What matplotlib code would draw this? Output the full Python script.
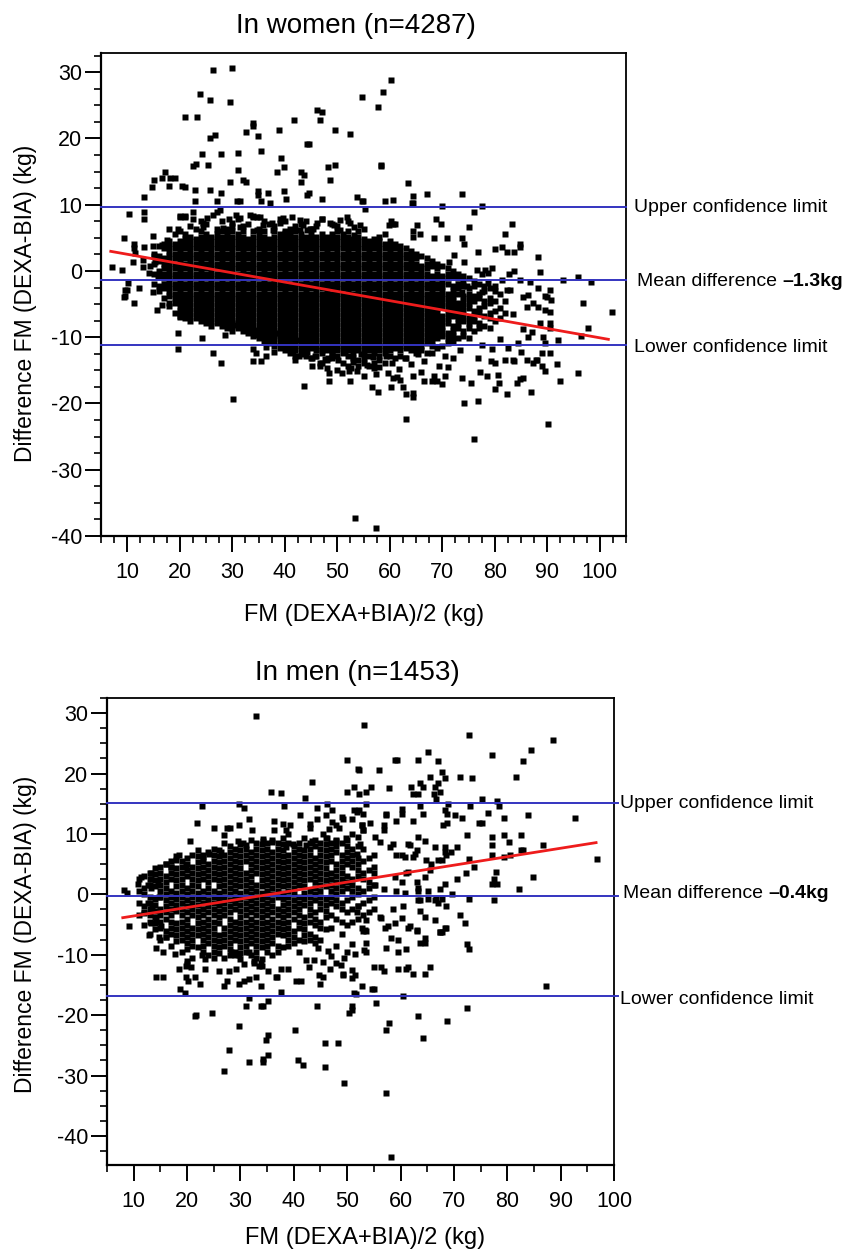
import matplotlib
matplotlib.use('Agg')
import matplotlib.pyplot as plt
from matplotlib.ticker import MultipleLocator
import numpy as np

plt.rcParams['font.family'] = ['Liberation Sans', 'DejaVu Sans']
plt.rcParams['axes.unicode_minus'] = False

# ------------------------------------------------------------------ data
# Women: dense core, read column by column (x in kg, list of y in kg)
women_core_x = list(range(15, 83))
women_core_y = [
    [2.6, 1.1, -0.4, -1.9],
    [3.7, 2.2, 1.5, 0.0, -0.8, -2.3, -3.0],
    [4.1, 3.4, 1.9, 1.1, 0.4, -0.4, -1.1, -1.9, -2.6, -4.1],
    [4.5, 3.7, 3.0, 2.2, 1.5, 0.7, 0.0, -0.8, -1.5, -2.3, -3.0, -3.8, -5.3],
    [5.6, 4.1, 3.4, 2.6, 1.9, 1.1, 0.4, -0.4, -1.1, -1.9, -2.6, -3.4, -4.1, -4.9, -6.4],
    [6.0, 4.5, 3.7, 3.0, 2.2, 1.5, 0.7, 0.0, -0.8, -1.5, -2.3, -3.0, -3.8, -4.5, -5.3, -6.0, -6.8],
    [5.6, 4.9, 4.1, 3.4, 2.6, 1.9, 1.1, 0.4, -0.4, -1.1, -1.9, -2.6, -3.4, -4.1, -4.9, -5.6, -6.4],
    [6.8, 5.2, 4.5, 3.7, 3.0, 2.2, 1.5, 0.7, 0.0, -0.8, -1.5, -2.3, -3.0, -3.8, -4.5, -5.3, -6.0, -6.8, -7.5],
    [6.4, 4.9, 4.1, 3.4, 2.6, 1.9, 1.1, 0.4, -0.4, -1.1, -1.9, -2.6, -3.4, -4.1, -4.9, -5.6, -6.4, -7.1],
    [7.5, 6.0, 5.2, 4.5, 3.7, 3.0, 2.2, 1.5, 0.7, 0.0, -0.8, -1.5, -2.3, -3.0, -3.8, -4.5, -5.3, -6.0, -6.8, -7.5],
    [7.1, 5.6, 4.9, 4.1, 3.4, 2.6, 1.9, 1.1, 0.4, -0.4, -1.1, -1.9, -2.6, -3.4, -4.1, -4.9, -5.6, -6.4, -7.1, -7.9],
    [5.2, 4.5, 3.7, 3.0, 2.2, 1.5, 0.7, 0.0, -0.8, -1.5, -2.3, -3.0, -3.8, -4.5, -5.3, -6.0, -6.8, -7.5, -8.3],
    [6.4, 5.6, 4.9, 4.1, 3.4, 2.6, 1.9, 1.1, 0.4, -0.4, -1.1, -1.9, -2.6, -3.4, -4.1, -4.9, -5.6, -6.4, -7.1, -7.9],
    [7.5, 6.0, 5.2, 4.5, 3.7, 3.0, 2.2, 1.5, 0.7, 0.0, -0.8, -1.5, -2.3, -3.0, -3.8, -4.5, -5.3, -6.0, -6.8, -7.5, -8.3],
    [6.4, 5.6, 4.9, 4.1, 3.4, 2.6, 1.9, 1.1, 0.4, -0.4, -1.1, -1.9, -2.6, -3.4, -4.1, -4.9, -5.6, -6.4, -7.1, -7.9, -8.6],
    [6.8, 6.0, 5.2, 4.5, 3.7, 3.0, 2.2, 1.5, 0.7, 0.0, -0.8, -1.5, -2.3, -3.0, -3.8, -4.5, -5.3, -6.0, -6.8, -7.5, -8.3, -9.0],
    [7.9, 5.6, 4.9, 4.1, 3.4, 2.6, 1.9, 1.1, 0.4, -0.4, -1.1, -1.9, -2.6, -3.4, -4.1, -4.9, -5.6, -6.4, -7.1, -7.9, -8.6],
    [6.8, 6.0, 5.2, 4.5, 3.7, 3.0, 2.2, 1.5, 0.7, 0.0, -0.8, -1.5, -2.3, -3.0, -3.8, -4.5, -5.3, -6.0, -6.8, -7.5, -8.3, -9.0],
    [7.1, 4.9, 4.1, 3.4, 2.6, 1.9, 1.1, 0.4, -0.4, -1.1, -1.9, -2.6, -3.4, -4.1, -4.9, -5.6, -6.4, -7.1, -7.9, -8.6, -9.4],
    [8.3, 6.0, 5.2, 4.5, 3.7, 3.0, 2.2, 1.5, 0.7, 0.0, -0.8, -1.5, -2.3, -3.0, -3.8, -4.5, -5.3, -6.0, -6.8, -7.5, -8.3, -9.0, -9.8],
    [6.4, 5.6, 4.9, 4.1, 3.4, 2.6, 1.9, 1.1, 0.4, -0.4, -1.1, -1.9, -2.6, -3.4, -4.1, -4.9, -5.6, -6.4, -7.1, -7.9, -8.6, -9.4, -10.1],
    [7.5, 6.0, 5.2, 4.5, 3.7, 3.0, 2.2, 1.5, 0.7, 0.0, -0.8, -1.5, -2.3, -3.0, -3.8, -4.5, -5.3, -6.0, -6.8, -7.5, -8.3, -9.0, -9.8, -10.5],
    [7.1, 4.9, 4.1, 3.4, 2.6, 1.9, 1.1, 0.4, -0.4, -1.1, -1.9, -2.6, -3.4, -4.1, -4.9, -5.6, -6.4, -7.1, -7.9, -8.6, -9.4, -10.1, -10.9],
    [6.8, 6.0, 5.2, 4.5, 3.7, 3.0, 2.2, 1.5, 0.7, 0.0, -0.8, -1.5, -2.3, -3.0, -3.8, -4.5, -5.3, -6.0, -6.8, -7.5, -8.3, -9.0, -9.8, -10.5, -11.3],
    [7.9, 5.6, 4.9, 4.1, 3.4, 2.6, 1.9, 1.1, 0.4, -0.4, -1.1, -1.9, -2.6, -3.4, -4.1, -4.9, -5.6, -6.4, -7.1, -7.9, -8.6, -9.4, -10.1, -10.9, -11.6],
    [7.5, 6.0, 5.2, 4.5, 3.7, 3.0, 2.2, 1.5, 0.7, 0.0, -0.8, -1.5, -2.3, -3.0, -3.8, -4.5, -5.3, -6.0, -6.8, -7.5, -8.3, -9.0, -9.8, -10.5, -11.3, -12.0],
    [6.4, 5.6, 4.9, 4.1, 3.4, 2.6, 1.9, 1.1, 0.4, -0.4, -1.1, -1.9, -2.6, -3.4, -4.1, -4.9, -5.6, -6.4, -7.1, -7.9, -8.6, -9.4, -10.1, -10.9, -11.6, -12.4],
    [6.8, 6.0, 5.2, 4.5, 3.7, 3.0, 2.2, 1.5, 0.7, 0.0, -0.8, -1.5, -2.3, -3.0, -3.8, -4.5, -5.3, -6.0, -6.8, -7.5, -8.3, -9.0, -9.8, -10.5, -11.3, -12.0, -12.8],
    [7.1, 5.6, 4.9, 4.1, 3.4, 2.6, 1.9, 1.1, 0.4, -0.4, -1.1, -1.9, -2.6, -3.4, -4.1, -4.9, -5.6, -6.4, -7.1, -7.9, -8.6, -9.4, -10.1, -10.9, -11.6, -12.4],
    [7.5, 5.2, 4.5, 3.7, 3.0, 2.2, 1.5, 0.7, 0.0, -0.8, -1.5, -2.3, -3.0, -3.8, -4.5, -5.3, -6.0, -6.8, -7.5, -8.3, -9.0, -9.8, -10.5, -11.3, -12.0, -12.8],
    [6.4, 5.6, 4.9, 4.1, 3.4, 2.6, 1.9, 1.1, 0.4, -0.4, -1.1, -1.9, -2.6, -3.4, -4.1, -4.9, -5.6, -6.4, -7.1, -7.9, -8.6, -9.4, -10.1, -10.9, -11.6, -13.1],
    [6.8, 5.2, 4.5, 3.7, 3.0, 2.2, 1.5, 0.7, 0.0, -0.8, -1.5, -2.3, -3.0, -3.8, -4.5, -5.3, -6.0, -6.8, -7.5, -8.3, -9.0, -9.8, -10.5, -11.3, -12.0, -12.8],
    [7.9, 5.6, 4.9, 4.1, 3.4, 2.6, 1.9, 1.1, 0.4, -0.4, -1.1, -1.9, -2.6, -3.4, -4.1, -4.9, -5.6, -6.4, -7.1, -7.9, -8.6, -9.4, -10.1, -10.9, -11.6, -12.4, -13.9],
    [5.2, 4.5, 3.7, 3.0, 2.2, 1.5, 0.7, 0.0, -0.8, -1.5, -2.3, -3.0, -3.8, -4.5, -5.3, -6.0, -6.8, -7.5, -8.3, -9.0, -9.8, -10.5, -11.3, -12.0, -13.5],
    [7.1, 5.6, 4.9, 4.1, 3.4, 2.6, 1.9, 1.1, 0.4, -0.4, -1.1, -1.9, -2.6, -3.4, -4.1, -4.9, -5.6, -6.4, -7.1, -7.9, -8.6, -9.4, -10.1, -10.9, -11.6, -12.4, -13.1],
    [6.8, 6.0, 5.2, 4.5, 3.7, 3.0, 2.2, 1.5, 0.7, 0.0, -0.8, -1.5, -2.3, -3.0, -3.8, -4.5, -5.3, -6.0, -6.8, -7.5, -8.3, -9.0, -9.8, -10.5, -11.3, -12.0, -12.8],
    [5.6, 4.9, 4.1, 3.4, 2.6, 1.9, 1.1, 0.4, -0.4, -1.1, -1.9, -2.6, -3.4, -4.1, -4.9, -5.6, -6.4, -7.1, -7.9, -8.6, -9.4, -10.1, -10.9, -11.6, -12.4, -13.9],
    [7.5, 6.0, 5.2, 4.5, 3.7, 3.0, 2.2, 1.5, 0.7, 0.0, -0.8, -1.5, -2.3, -3.0, -3.8, -4.5, -5.3, -6.0, -6.8, -7.5, -8.3, -9.0, -9.8, -10.5, -11.3, -12.0, -12.8, -14.3],
    [4.9, 4.1, 3.4, 2.6, 1.9, 1.1, 0.4, -0.4, -1.1, -1.9, -2.6, -3.4, -4.1, -4.9, -5.6, -6.4, -7.1, -7.9, -8.6, -9.4, -10.1, -10.9, -11.6, -12.4, -13.1],
    [6.0, 5.2, 4.5, 3.7, 3.0, 2.2, 1.5, 0.7, 0.0, -0.8, -1.5, -2.3, -3.0, -3.8, -4.5, -5.3, -6.0, -6.8, -7.5, -8.3, -9.0, -9.8, -10.5, -11.3, -12.0, -13.5, -14.3],
    [6.4, 4.9, 4.1, 3.4, 2.6, 1.9, 1.1, 0.4, -0.4, -1.1, -1.9, -2.6, -3.4, -4.1, -4.9, -5.6, -6.4, -7.1, -7.9, -8.6, -9.4, -10.1, -10.9, -11.6, -12.4, -13.1, -13.9],
    [4.5, 3.7, 3.0, 2.2, 1.5, 0.7, 0.0, -0.8, -1.5, -2.3, -3.0, -3.8, -4.5, -5.3, -6.0, -6.8, -7.5, -8.3, -9.0, -9.8, -10.5, -11.3, -12.0, -12.8, -14.3],
    [4.9, 4.1, 3.4, 2.6, 1.9, 1.1, 0.4, -0.4, -1.1, -1.9, -2.6, -3.4, -4.1, -4.9, -5.6, -6.4, -7.1, -7.9, -8.6, -9.4, -10.1, -10.9, -11.6, -12.4, -13.9, -14.6],
    [5.2, 4.5, 3.7, 3.0, 2.2, 1.5, 0.7, 0.0, -0.8, -1.5, -2.3, -3.0, -3.8, -4.5, -5.3, -6.0, -6.8, -7.5, -8.3, -9.0, -9.8, -10.5, -11.3, -12.0, -12.8, -13.5],
    [5.6, 4.1, 3.4, 2.6, 1.9, 1.1, 0.4, -0.4, -1.1, -1.9, -2.6, -3.4, -4.1, -4.9, -5.6, -6.4, -7.1, -7.9, -8.6, -9.4, -10.1, -10.9, -11.6, -12.4, -13.9],
    [4.5, 3.7, 3.0, 2.2, 1.5, 0.7, 0.0, -0.8, -1.5, -2.3, -3.0, -3.8, -4.5, -5.3, -6.0, -6.8, -7.5, -8.3, -9.0, -9.8, -10.5, -11.3, -12.0, -12.8],
    [4.1, 3.4, 2.6, 1.9, 1.1, 0.4, -0.4, -1.1, -1.9, -2.6, -3.4, -4.1, -4.9, -5.6, -6.4, -7.1, -7.9, -8.6, -9.4, -10.1, -10.9, -11.6, -13.1],
    [3.7, 3.0, 2.2, 1.5, 0.7, 0.0, -0.8, -1.5, -2.3, -3.0, -3.8, -4.5, -5.3, -6.0, -6.8, -7.5, -8.3, -9.0, -9.8, -10.5, -11.3, -12.0, -12.8],
    [3.4, 2.6, 1.9, 1.1, 0.4, -0.4, -1.1, -1.9, -2.6, -3.4, -4.1, -4.9, -5.6, -6.4, -7.1, -7.9, -8.6, -9.4, -10.1, -10.9, -11.6, -13.1],
    [3.0, 2.2, 1.5, 0.7, 0.0, -0.8, -1.5, -2.3, -3.0, -3.8, -4.5, -5.3, -6.0, -6.8, -7.5, -8.3, -9.0, -9.8, -10.5, -11.3, -12.0],
    [2.6, 1.9, 1.1, 0.4, -0.4, -1.1, -1.9, -2.6, -3.4, -4.1, -4.9, -5.6, -6.4, -7.1, -7.9, -8.6, -9.4, -10.1, -10.9, -11.6, -12.4],
    [2.2, 0.7, 0.0, -0.8, -1.5, -2.3, -3.0, -3.8, -4.5, -5.3, -6.0, -6.8, -7.5, -8.3, -9.0, -9.8, -10.5, -11.3, -12.0],
    [1.9, 1.1, 0.4, -0.4, -1.1, -1.9, -2.6, -3.4, -4.1, -4.9, -5.6, -6.4, -7.1, -7.9, -8.6, -9.4, -10.1, -10.9, -12.4],
    [1.5, 0.7, -0.8, -1.5, -2.3, -3.0, -3.8, -4.5, -5.3, -6.0, -6.8, -7.5, -8.3, -9.0, -9.8, -10.5, -11.3],
    [1.1, 0.4, -0.4, -1.1, -1.9, -2.6, -3.4, -4.1, -4.9, -5.6, -6.4, -7.1, -7.9, -8.6, -9.4, -10.1, -11.6],
    [0.7, -0.8, -1.5, -2.3, -3.0, -3.8, -4.5, -5.3, -6.8, -7.5, -8.3, -9.0, -9.8, -11.3],
    [0.4, -0.4, -1.1, -1.9, -3.4, -4.1, -4.9, -5.6, -6.4, -7.1, -7.9, -9.4, -10.1, -10.9],
    [0.0, -0.8, -2.3, -3.0, -3.8, -4.5, -5.3, -6.0, -6.8, -8.3, -9.0, -9.8, -10.5],
    [-0.4, -1.1, -1.9, -2.6, -3.4, -4.9, -5.6, -6.4, -7.1, -7.9, -8.6, -10.1],
    [-0.8, -1.5, -2.3, -3.8, -4.5, -5.3, -6.0, -6.8, -7.5, -9.0, -9.8],
    [-1.1, -2.6, -3.4, -4.1, -4.9, -5.6, -7.1, -7.9, -8.6, -10.1],
    [-1.5, -2.3, -3.8, -4.5, -6.0, -6.8, -7.5, -9.0],
    [-1.9, -3.4, -4.1, -5.6, -6.4, -7.9, -8.6],
    [-2.3, -3.0, -4.5, -5.3, -6.8, -8.3],
    [-2.6, -4.1, -4.9, -6.4, -7.1, -8.6],
    [-3.0, -4.5, -6.0, -7.5],
    [-3.4, -5.6, -7.1],
    [-4.5, -6.4],
]

# Women: individually readable points (x, y)
women_upper = [
    (26.3, 30.3), (30.0, 30.6), (23.9, 26.7), (25.8, 25.8), (29.6, 25.5), (21.0, 23.2), (23.3, 23.2),
    (33.9, 22.3), (33.9, 21.9), (32.6, 21.0), (34.9, 20.4), (25.8, 20.1), (26.7, 20.5), (38.9, 21.3),
    (41.8, 22.8), (46.1, 24.3), (47.1, 24.0), (46.7, 22.8), (49.6, 21.3), (52.4, 20.6), (54.8, 26.2),
    (44.2, 19.1), (44.6, 19.1), (24.2, 17.6), (27.9, 17.6), (31.1, 17.8), (35.5, 18.1), (39.3, 17.1),
    (22.5, 15.8), (23.1, 16.2), (25.4, 16.0), (31.1, 15.2), (39.9, 15.7), (38.5, 15.0), (43.1, 15.0),
    (48.2, 15.7), (49.6, 16.0), (17.2, 15.0), (16.6, 14.1), (15.1, 13.8), (18.1, 14.1), (19.1, 14.1),
    (14.7, 12.7), (18.0, 12.9), (20.4, 12.9), (21.0, 12.6), (13.2, 11.2), (29.6, 13.4), (32.0, 13.8),
    (32.6, 13.4), (22.9, 12.2), (25.8, 12.2), (27.9, 11.8), (22.9, 10.5), (27.1, 10.5), (30.9, 10.5),
    (31.5, 10.5), (34.9, 12.1), (34.9, 11.4), (35.5, 10.5), (36.8, 11.8), (37.2, 10.2), (39.9, 12.1),
    (40.2, 10.8), (43.1, 13.4), (43.7, 14.5), (44.2, 11.4), (44.6, 11.8), (47.1, 10.8), (53.8, 11.2),
    (54.7, 10.5), (48.6, 13.8), (60.2, 28.9), (58.7, 27.0), (57.8, 24.7), (58.3, 16.0), (58.3, 15.8),
    (63.5, 13.3), (64.4, 11.3), (67.1, 11.6), (73.8, 11.6), (54.9, 10.5), (59.1, 10.5), (60.6, 10.7),
    (64.2, 10.2), (64.4, 10.2), (55.3, 9.3), (70.0, 9.8), (77.6, 9.8), (76.0, 8.9),
]
women_halo_up = [
    (20.0, 8.2), (21.0, 8.2), (22.5, 8.9), (22.5, 7.8), (24.5, 7.2), (25.1, 8.0), (26.4, 8.5), (27.0, 8.9),
    (27.7, 9.2), (29.3, 7.8), (29.9, 7.2), (30.8, 8.5), (31.5, 8.0), (33.4, 8.5), (34.0, 8.2), (34.7, 8.2),
    (35.3, 8.2), (35.9, 7.0), (37.5, 7.2), (39.1, 7.2), (39.7, 8.0), (41.3, 8.2), (42.9, 7.7), (43.5, 7.0),
    (44.2, 6.2), (44.8, 6.3), (46.1, 7.2), (47.0, 7.8), (48.6, 7.2), (49.3, 7.0), (50.5, 7.7), (51.8, 8.2),
    (52.4, 7.2), (53.1, 6.7), (54.3, 7.0), (24.5, 6.7), (28.3, 6.5), (31.5, 6.7), (34.7, 6.2), (37.8, 6.2),
    (40.0, 5.7), (42.9, 6.2), (45.4, 6.3), (50.5, 6.2), (53.1, 5.5),
    (60.2, 7.5), (60.6, 7.1), (59.9, 6.9), (61.0, 7.1), (68.8, 7.8), (69.8, 7.1), (75.1, 6.6), (83.3, 7.1),
    (82.0, 5.6), (65.2, 6.9), (64.4, 6.1), (65.8, 5.6), (64.4, 5.1), (68.4, 5.0), (70.9, 5.0), (73.8, 5.0),
    (74.1, 4.1), (84.8, 4.1), (84.8, 3.6), (81.4, 3.6), (82.3, 2.9), (83.7, 2.9), (80.0, 3.3), (76.8, 2.9),
    (88.2, 2.1), (72.2, 2.4), (71.3, 1.3), (74.1, 1.3), (88.6, -0.2), (76.6, 0.1), (78.1, 0.1), (79.5, 0.4),
    (78.7, -0.3), (77.6, -0.5), (83.7, 0.0), (82.7, -0.4), (81.4, -1.4), (84.8, -1.4), (86.7, -1.7),
    (93.0, -1.4), (95.9, -0.9), (98.3, -1.7), (88.2, -2.6), (90.5, -2.9), (89.6, -3.8), (82.3, -2.9),
    (82.9, -2.9), (80.0, -2.3), (78.7, -1.8), (77.6, -3.2), (74.7, -2.3), (73.8, -3.1),
]
women_left = [
    (9.4, 5.0), (11.3, 4.1), (11.3, 3.5), (7.1, 0.6), (9.0, 0.1), (11.1, 1.3), (13.0, 1.6), (13.0, 0.6),
    (10.1, -1.8), (9.6, -2.9), (12.2, -2.6), (14.9, -3.2), (9.6, -3.8), (13.2, 3.6), (14.9, 3.8), (14.9, 5.3),
    (10.3, 8.6), (13.2, 8.9), (13.2, 7.9), (18.0, 6.3), (19.7, 6.3), (20.0, 8.3), (21.0, 8.3), (14.1, -0.3),
    (15.9, -0.8), (14.3, 0.7), (11.5, 2.7), (15.0, 2.2), (15.3, 1.4), (17.5, 4.7), (16.6, 3.9),
    (11.3, -4.8), (9.4, -3.9), (15.7, -5.9), (16.6, -5.1), (18.0, -4.8), (9.95, -2.9),
]
women_lower = [
    (53.4, -37.3), (30.1, -19.3), (43.7, -17.4), (48.4, -16.6), (52.4, -16.6), (48.4, -15.4), (50.9, -15.4),
    (52.2, -15.1), (53.8, -15.1), (45.2, -14.3), (46.7, -14.3), (46.7, -13.9), (48.0, -14.6), (48.2, -13.1),
    (47.7, -13.3), (45.2, -13.1), (44.2, -12.2), (42.7, -12.8), (41.4, -11.8), (41.6, -12.2), (33.9, -13.6),
    (35.5, -13.6), (36.4, -12.8), (34.5, -12.4), (33.9, -11.8), (26.3, -12.4), (27.9, -13.9), (19.7, -11.8),
    (19.7, -9.4), (24.2, -10.1), (28.6, -9.7), (34.3, -8.9), (34.3, -9.7), (28.2, -8.2), (30.1, -8.2),
    (20.0, -7.0), (21.0, -7.1), (25.8, -7.1), (27.7, -6.7), (32.6, -7.9), (31.1, -7.9), (31.3, -6.4),
    (38.1, -9.4), (39.1, -9.7), (40.0, -10.4), (41.0, -10.9), (42.9, -10.4), (44.2, -11.2),
    (36.5, -11.5), (38.0, -12.3), (40.5, -11.8), (42.0, -13.5), (43.5, -12.5), (45.8, -12.9), (47.0, -12.0),
    (49.0, -12.6), (50.2, -13.4), (51.5, -12.2), (53.0, -13.8), (54.5, -12.6), (55.6, -14.2), (56.8, -13.0),
    (58.0, -14.5), (59.2, -12.8), (60.5, -13.9), (61.8, -14.8), (62.9, -13.2), (64.0, -14.0), (65.3, -12.6),
    (66.6, -13.6), (68.0, -12.4), (69.3, -14.4), (70.6, -12.8), (72.0, -13.2), (73.4, -12.0), (57.4, -15.6),
    (59.6, -15.4), (55.0, -15.8), (52.7, -14.6), (50.0, -15.0), (62.0, -16.4), (66.0, -15.2), (68.5, -15.8),
    (71.0, -14.5), (63.1, -22.3), (57.3, -38.8), (64.4, -19.0), (64.4, -18.4), (63.1, -18.6), (62.5, -17.5),
    (60.2, -17.5), (56.7, -17.5), (57.7, -18.3), (61.4, -16.0), (60.6, -16.2), (64.4, -15.9), (66.5, -16.6),
    (68.0, -16.6), (69.0, -16.6), (70.0, -17.0), (70.5, -15.9),
]
women_right = [
    (96.8, -4.8), (102.3, -6.2), (97.8, -8.6), (96.4, -9.8), (92.0, -10.4), (90.5, -6.2), (90.5, -7.9),
    (90.5, -8.6), (88.6, -7.9), (89.6, -10.9), (90.5, -12.4), (89.0, -12.4), (91.9, -14.0), (92.4, -16.6),
    (95.9, -15.4), (89.6, -15.1), (89.0, -14.3), (88.0, -13.4), (87.3, -13.9), (86.9, -18.3), (85.4, -16.2),
    (84.2, -16.9), (84.8, -16.3), (82.3, -18.6), (80.0, -17.8), (80.8, -16.9), (80.6, -15.7), (78.5, -15.9),
    (82.0, -13.4), (83.5, -13.5), (83.7, -13.6), (86.1, -13.5), (87.9, -13.4), (79.3, -13.6), (80.0, -13.9),
    (76.8, -13.1), (77.2, -15.2), (75.5, -16.9), (73.8, -16.2), (74.1, -19.9), (76.8, -19.6), (90.1, -23.1),
    (76.0, -25.4), (85.4, -3.9), (86.4, -3.6), (87.3, -4.9), (86.1, -5.4), (88.3, -5.4), (89.9, -3.9),
    (90.7, -4.4), (89.6, -5.9), (85.3, -8.7), (87.0, -9.2), (86.4, -9.9), (89.2, -9.9), (83.5, -6.5),
    (84.5, -10.8), (82.5, -11.6), (85.0, -12.2), (81.0, -10.2), (79.5, -11.8), (77.5, -11.2),
]

# Men: dense core, read column by column
men_core_x = list(range(11, 56))
men_core_y = [
    [2.5, 0.5, -1.5, -3.5],
    [3, 1, 0, -2, -3, -5],
    [3.5, 2.5, 1.5, -0.5, -1.5, -2.5, -3.5, -4.5, -6.5],
    [4.3, 3.3, 2.3, 1.3, -0.7, -1.7, -2.7, -3.7, -4.7, -5.7],
    [4.5, 3.5, 2.5, 1.5, 0.5, -0.5, -2.5, -3.5, -4.5, -5.5, -7.5],
    [5, 3, 2, 1, 0, -1, -2, -3, -4, -6, -7],
    [5.5, 4.5, 3.5, 2.5, 0.5, -0.5, -1.5, -2.5, -3.5, -4.5, -5.5, -6.5, -8.5],
    [6.3, 4.3, 3.3, 2.3, 1.3, 0.3, -0.7, -1.7, -2.7, -4.7, -5.7, -6.7, -7.7],
    [5.5, 4.5, 3.5, 2.5, 1.5, 0.5, -0.5, -1.5, -2.5, -3.5, -4.5, -5.5, -6.5, -7.5, -9.5],
    [6, 5, 4, 3, 1, 0, -1, -2, -3, -4, -5, -6, -7, -8, -9],
    [6.5, 4.5, 3.5, 2.5, 1.5, 0.5, -0.5, -1.5, -2.5, -3.5, -5.5, -6.5, -7.5, -8.5],
    [7.3, 6.3, 5.3, 4.3, 3.3, 2.3, 1.3, 0.3, -0.7, -1.7, -2.7, -3.7, -4.7, -5.7, -6.7, -8.7],
    [6.5, 5.5, 4.5, 3.5, 2.5, 0.5, -0.5, -1.5, -2.5, -3.5, -4.5, -5.5, -6.5, -7.5, -8.5, -9.5],
    [7, 5, 4, 3, 2, 1, 0, -1, -2, -3, -4, -5, -6, -7, -8, -10],
    [7.5, 6.5, 5.5, 4.5, 3.5, 2.5, 0.5, -0.5, -1.5, -2.5, -3.5, -4.5, -5.5, -6.5, -7.5, -8.5, -9.5],
    [7.3, 6.3, 5.3, 4.3, 3.3, 2.3, 1.3, 0.3, -0.7, -1.7, -2.7, -3.7, -4.7, -6.7, -7.7, -8.7, -9.7],
    [8.5, 6.5, 5.5, 4.5, 3.5, 2.5, 1.5, 0.5, -0.5, -1.5, -2.5, -3.5, -5.5, -6.5, -7.5, -8.5, -10.5],
    [8, 7, 6, 5, 4, 3, 2, 1, 0, -1, -2, -3, -4, -5, -6, -7, -8, -9, -10],
    [7.5, 6.5, 5.5, 4.5, 3.5, 2.5, 1.5, 0.5, -0.5, -1.5, -2.5, -4.5, -5.5, -6.5, -7.5, -9.5],
    [8.3, 7.3, 6.3, 5.3, 4.3, 3.3, 2.3, 1.3, 0.3, -0.7, -1.7, -2.7, -3.7, -4.7, -5.7, -6.7, -7.7, -8.7, -9.7, -10.7],
    [7.5, 6.5, 5.5, 3.5, 2.5, 1.5, 0.5, -0.5, -1.5, -2.5, -3.5, -4.5, -5.5, -6.5, -7.5, -8.5, -9.5],
    [9, 7, 6, 5, 4, 3, 2, 1, 0, -1, -2, -3, -4, -5, -6, -7, -8, -10],
    [8.5, 7.5, 6.5, 5.5, 4.5, 3.5, 1.5, 0.5, -0.5, -1.5, -2.5, -3.5, -4.5, -5.5, -6.5, -7.5, -8.5, -9.5, -10.5],
    [8.3, 7.3, 6.3, 5.3, 4.3, 3.3, 2.3, 1.3, 0.3, -0.7, -1.7, -2.7, -3.7, -4.7, -5.7, -6.7, -7.7, -8.7, -10.7],
    [8.5, 7.5, 6.5, 5.5, 4.5, 3.5, 2.5, 1.5, 0.5, -0.5, -1.5, -2.5, -3.5, -4.5, -5.5, -6.5, -7.5, -8.5, -9.5],
    [9, 7, 6, 5, 4, 3, 2, 1, 0, -1, -2, -3, -4, -5, -6, -7, -8, -10],
    [8.5, 7.5, 6.5, 5.5, 4.5, 3.5, 2.5, 1.5, 0.5, -0.5, -2.5, -3.5, -4.5, -5.5, -6.5, -8.5, -9.5],
    [9.3, 8.3, 7.3, 6.3, 5.3, 4.3, 3.3, 2.3, 1.3, 0.3, -0.7, -1.7, -2.7, -3.7, -4.7, -5.7, -6.7, -8.7],
    [8.5, 6.5, 5.5, 4.5, 3.5, 2.5, 1.5, 0.5, -0.5, -1.5, -2.5, -3.5, -4.5, -5.5, -6.5, -7.5, -8.5],
    [8, 7, 6, 5, 4, 3, 2, 1, 0, -1, -2, -3, -4, -6, -7, -8],
    [8.5, 7.5, 6.5, 5.5, 4.5, 3.5, 2.5, 1.5, -0.5, -1.5, -2.5, -3.5, -4.5, -5.5, -7.5, -9.5],
    [9.3, 7.3, 6.3, 5.3, 4.3, 3.3, 2.3, 1.3, 0.3, -0.7, -1.7, -3.7, -4.7, -5.7, -6.7, -7.7],
    [8.5, 7.5, 6.5, 5.5, 4.5, 3.5, 2.5, 0.5, -0.5, -1.5, -2.5, -3.5, -4.5, -6.5, -7.5],
    [9, 8, 6, 5, 4, 3, 2, 1, 0, -1, -3, -4, -5, -7, -8],
    [8.5, 7.5, 6.5, 5.5, 4.5, 3.5, 2.5, 1.5, 0.5, -0.5, -1.5, -2.5, -4.5, -5.5, -7.5],
    [9.3, 8.3, 7.3, 6.3, 5.3, 4.3, 3.3, 2.3, 1.3, -0.7, -1.7, -2.7, -3.7, -5.7],
    [8.5, 7.5, 6.5, 5.5, 3.5, 2.5, 1.5, 0.5, -0.5, -1.5, -3.5, -5.5],
    [9, 8, 7, 5, 4, 3, 2, 1, 0, -1, -2, -4],
    [8.5, 6.5, 5.5, 4.5, 3.5, 2.5, 1.5, 0.5, -1.5, -2.5, -4.5, -6.5],
    [9, 8, 7, 6, 5, 3, 2, 1, -1, -3, -5],
    [7.5, 6.5, 5.5, 4.5, 2.5, 1.5, 0.5, -0.5, -2.5, -4.5],
    [8, 6, 5, 4, 3, 1, 0, -2, -4],
    [7.5, 5.5, 3.5, 2.5, 0.5, -1.5, -3.5],
    [6, 4, 2, 1, -1, -3],
    [6.5, 4.5, 3.5, 1.5, -0.5, -2.5],
]

men_upper = [
    (33.0, 29.5), (49.9, 22.3), (52.1, 20.7), (43.5, 18.6), (51.3, 17.8), (49.9, 17.0), (35.8, 17.0),
    (37.6, 16.7), (42.1, 15.9), (22.8, 14.7), (29.8, 15.0), (30.7, 14.3), (38.2, 14.7), (44.4, 14.3),
    (46.3, 15.0), (47.2, 13.9), (51.3, 13.9), (52.2, 13.9), (49.2, 12.5), (51.0, 12.5), (41.2, 13.1),
    (44.3, 12.5), (46.0, 13.1), (31.6, 12.5), (36.2, 12.2), (21.9, 11.8), (25.1, 11.0), (27.5, 11.0),
    (28.0, 11.0), (29.8, 11.4), (32.1, 10.6), (36.2, 10.7), (37.9, 11.7), (39.3, 11.4), (43.1, 11.7),
    (43.1, 10.9), (38.5, 10.6), (39.0, 10.0), (27.0, 9.8), (34.3, 9.2), (34.3, 8.8), (20.6, 8.8),
    (29.5, 8.9), (30.4, 8.5), (31.0, 8.1), (36.0, 8.7), (38.5, 7.8), (39.8, 8.4), (42.3, 8.1), (43.5, 8.8),
    (46.2, 9.4), (47.9, 8.8), (49.8, 9.4), (51.0, 10.0), (45.4, 10.0), (46.6, 10.8), (49.1, 12.8),
    (47.2, 12.0), (47.9, 11.4), (48.5, 10.9), (26.3, 7.0), (24.2, 6.6), (22.9, 6.2), (16.0, 5.1),
    (16.9, 4.6), (17.9, 5.7), (18.5, 6.5), (19.8, 4.8), (11.4, 2.9), (13.2, 3.5), (13.2, 2.6), (10.9, 1.7),
    (12.6, 1.5), (13.2, 1.0), (8.2, 0.8), (8.7, 0.2), (9.2, -5.3), (14.5, 2.1), (14.8, -0.4), (12.6, -1.5),
    (13.5, -2.3), (12.0, -3.1), (14.2, -3.9), (13.2, -4.8), (15.1, -5.3), (12.9, -6.7),
]
men_right = [
    (53.2, 28.0), (72.8, 26.4), (88.6, 25.6), (84.4, 23.9), (77.1, 23.1), (82.9, 22.0), (65.2, 23.6),
    (63.3, 22.3), (59.4, 22.3), (59.0, 22.3), (67.0, 22.0), (67.8, 20.3), (65.5, 19.5), (68.3, 19.2),
    (71.1, 19.5), (73.4, 19.2), (81.7, 19.5), (52.3, 20.6), (56.0, 20.6), (63.6, 18.5), (64.3, 17.8),
    (61.9, 17.8), (63.3, 16.6), (62.4, 16.6), (57.9, 17.6), (54.4, 17.8), (53.6, 17.0), (52.2, 16.6),
    (66.4, 17.8), (67.0, 18.4), (67.4, 17.0), (66.2, 16.6), (66.7, 15.8), (75.3, 15.8), (78.0, 15.5),
    (63.6, 14.7), (68.9, 15.0), (73.0, 14.7), (78.5, 14.7), (53.6, 15.0), (60.2, 14.1), (60.2, 13.3),
    (57.2, 13.3), (57.2, 13.1), (64.2, 13.3), (68.3, 13.9), (68.8, 13.3), (70.2, 13.1), (71.6, 12.6),
    (76.3, 13.4), (79.4, 12.6), (83.9, 13.1), (92.6, 12.6), (59.2, 12.2), (62.4, 12.2), (54.3, 11.8),
    (56.9, 11.4), (56.9, 10.6), (52.7, 11.4), (53.0, 10.6), (68.0, 11.4), (68.7, 11.8), (74.7, 11.8),
    (75.2, 11.8), (72.5, 9.8), (77.1, 9.5), (79.4, 9.8), (82.5, 9.8), (63.3, 9.5), (64.6, 8.9), (55.2, 9.5),
    (56.1, 8.7), (80.3, 8.7), (86.7, 8.1), (77.1, 8.1), (77.1, 6.5), (82.6, 7.3), (83.0, 7.3), (79.4, 6.2),
    (80.6, 6.5), (96.8, 5.8), (84.8, 2.9), (82.2, 0.9), (77.8, 3.7), (77.5, 2.5), (77.1, 1.7), (78.0, 1.7),
    (72.8, 5.8), (73.8, 4.6), (72.3, 3.5), (70.6, 2.5), (58.0, 7.8), (58.6, 8.4), (61.4, 8.4), (61.7, 8.1),
    (63.0, 7.3), (62.7, 6.7), (59.2, 6.5), (60.2, 6.5), (60.8, 6.2), (62.4, 6.2), (66.4, 7.8), (68.3, 7.8),
    (68.3, 7.0), (70.5, 7.8), (69.5, 7.0), (68.6, 6.5), (67.7, 5.7), (67.0, 5.7), (65.8, 5.1), (64.7, 5.7),
    (65.5, 4.0), (64.6, 2.9), (63.0, 2.1), (60.2, 2.1), (58.9, 2.9), (61.4, 3.7), (61.1, 3.5), (68.3, 1.7),
    (67.4, 0.9), (65.2, 0.6), (63.3, 0.6), (63.3, 1.0), (59.2, 0.6), (56.9, 0.9), (55.2, 1.5), (60.8, 0.2),
    (63.3, -1.0), (63.6, -1.0), (65.2, -0.7), (66.7, -0.7), (67.8, -0.7), (66.4, -1.0), (67.0, -1.5),
    (68.6, -1.9), (69.7, 0.1), (72.8, -0.8), (77.5, -1.0), (71.2, -3.5), (72.0, -4.7), (60.5, -1.9),
    (58.6, -2.4), (63.6, -2.7), (64.6, -3.8), (66.4, -4.2), (68.3, -5.5), (67.4, -6.3), (67.8, -6.3),
    (63.0, -5.9), (61.7, -5.3), (60.2, -3.9), (56.4, -3.9), (56.1, -3.7), (57.7, -5.3), (59.0, -4.8),
    (53.6, -4.3), (53.3, -5.9), (52.7, -5.6), (52.1, -2.0), (51.8, -3.0), (51.8, 13.6), (53.0, 13.3),
    (52.7, 11.4), (53.0, 10.6), (52.1, 9.5), (52.4, 8.4), (51.8, 6.7),
]
men_lower = [
    (58.2, -43.5), (57.3, -32.9), (64.2, -23.7), (57.3, -22.4), (57.9, -21.3), (63.3, -20.2), (68.7, -21.0),
    (72.5, -18.8), (55.4, -18.0), (60.5, -16.9), (87.3, -15.2), (52.8, -15.2), (54.6, -15.7), (55.1, -15.7),
    (51.7, -16.5), (55.1, -12.1), (56.3, -12.1), (56.9, -12.7), (59.5, -12.4), (61.1, -12.4), (61.4, -12.1),
    (62.4, -13.2), (64.6, -13.2), (65.5, -12.1), (72.5, -8.3), (72.8, -9.1), (53.2, -9.2), (53.6, -9.6),
    (57.2, -8.8), (59.5, -9.6), (61.1, -9.1), (58.2, -7.2), (59.5, -7.6), (63.6, -8.0), (64.6, -8.0),
    (64.6, -7.2), (67.4, -6.3), (53.6, -8.0), (51.4, -9.8), (51.4, -13.3), (53.0, -6.1), (53.6, -6.1),
    (57.1, -5.6), (61.4, -5.6), (63.0, -6.1), (68.6, -5.6), (27.0, -29.3), (27.9, -25.8), (31.6, -27.7),
    (34.3, -27.7), (34.3, -27.3), (35.2, -26.6), (34.8, -24.1), (35.2, -23.3), (29.8, -21.8), (40.8, -27.4),
    (41.7, -28.2), (45.9, -28.6), (49.4, -31.3), (40.2, -22.4), (45.9, -24.6), (48.2, -24.6), (21.7, -19.9),
    (21.4, -20.2), (24.7, -19.7), (31.1, -18.5), (33.8, -18.5), (34.3, -18.5), (35.2, -17.7), (31.6, -17.2),
    (44.4, -18.5), (50.9, -18.5), (50.9, -19.1), (50.4, -19.6), (37.6, -16.1), (18.7, -15.7), (19.7, -16.3),
    (51.3, -16.3), (14.2, -13.6), (15.4, -13.6), (19.8, -13.6), (20.1, -14.4), (21.5, -13.6), (22.5, -14.9),
    (27.0, -15.2), (27.4, -14.4), (29.8, -14.9), (30.7, -14.4), (31.6, -14.0), (33.0, -13.6), (33.8, -15.2),
    (36.8, -13.6), (40.4, -14.4), (41.3, -14.4), (44.9, -14.9), (44.8, -13.3), (45.4, -13.6), (49.2, -13.3),
    (51.0, -13.9), (51.0, -12.5), (18.4, -12.4), (19.8, -11.9), (20.7, -12.1), (23.4, -12.4), (26.0, -12.7),
    (27.9, -12.7), (29.2, -12.4), (30.7, -11.5), (32.6, -11.4), (34.0, -11.9), (35.2, -12.7), (36.6, -13.6),
    (37.6, -12.4), (39.0, -12.4), (42.9, -12.1), (42.3, -10.9), (43.8, -10.9), (46.8, -12.4), (47.9, -11.4),
    (48.8, -11.7), (49.3, -13.2), (15.4, -9.6), (14.2, -8.8), (17.8, -9.9), (20.0, -11.1), (20.0, -11.6),
    (21.0, -10.5), (22.8, -10.0), (23.4, -10.7), (25.1, -10.6), (28.3, -9.5), (28.9, -10.0), (29.8, -10.0),
    (31.6, -9.5), (32.6, -11.1), (33.8, -11.4), (33.5, -11.9), (14.8, -7.0), (16.1, -7.0),
    (44.5, -8.8), (46.5, -9.3), (48.0, -8.5), (50.0, -9.5), (51.0, -8.3), (47.0, -10.2), (49.5, -10.6),
    (45.5, -11.2),
]

# Reference lines (kg): upper limit, mean difference, lower limit
women_limits = [9.7, -1.3, -11.2]
men_limits = [15.2, -0.2, -16.9]
# Regression lines: intercept, slope, x range
women_fit = (3.925, -0.1401, 6.6, 101.9)
men_fit = (-4.979, 0.1401, 7.7, 96.9)

women_title = "In women (n=4287)"
men_title = "In men (n=1453)"
women_mean_label = "\u20131.3kg"
men_mean_label = "\u20130.4kg"
x_label = "FM (DEXA+BIA)/2 (kg)"
y_label = "Difference FM (DEXA-BIA) (kg)"

# ------------------------------------------------------------------ figure
W, H = 854, 1251
fig = plt.figure(figsize=(W / 100, H / 100), dpi=100)


def px_axes(l, t, r, b):
    return [l / W, 1 - b / H, (r - l) / W, (b - t) / H]


def ftext(xp, yp, s, **kw):
    return fig.text(xp / W, 1 - yp / H, s, **kw)


ax1 = fig.add_axes(px_axes(101, 53, 626, 536))
ax2 = fig.add_axes(px_axes(107, 698, 614, 1165))

BLUE = '#3434c0'
RED = '#ee1c1c'
MS = 3.9


def draw(ax, core_x, core_y, extra, xlim, ylim, limits, fit, xminor, line_x_end):
    cxs, cys = [], []
    for cx, cy in zip(core_x, core_y):
        cxs.extend([cx] * len(cy))
        cys.extend(cy)
    # dense core: no pixel snapping so neighbouring squares merge smoothly
    core_line, = ax.plot(cxs, cys, ls='none', marker='s', ms=MS, mfc='black', mec='none', zorder=2)
    core_line.set_snap(False)
    xs, ys = [], []
    for lst in extra:
        xs.extend(p[0] for p in lst)
        ys.extend(p[1] for p in lst)
    ax.plot(xs, ys, ls='none', marker='s', ms=MS, mfc='black', mec='none', zorder=2)
    for v in limits:
        ax.plot([xlim[0], line_x_end], [v, v], color=BLUE, lw=1.4, zorder=3, clip_on=False)
    a, b, x0, x1 = fit
    fx = np.array([x0, x1])
    ax.plot(fx, a + b * fx, color=RED, lw=2.0, zorder=4, solid_capstyle='butt')
    ax.set_xlim(*xlim)
    ax.set_ylim(*ylim)
    ax.xaxis.set_major_locator(MultipleLocator(10))
    ax.xaxis.set_minor_locator(MultipleLocator(xminor))
    ax.yaxis.set_major_locator(MultipleLocator(10))
    ax.yaxis.set_minor_locator(MultipleLocator(2.5))
    ax.tick_params(which='major', direction='out', length=11.5, width=1.4, labelsize=15.5)
    ax.tick_params(which='minor', direction='out', length=5.2, width=1.2)
    ax.tick_params(axis='x', which='major', pad=7)
    ax.tick_params(axis='y', which='major', pad=2)
    ax.set_xticks([10, 20, 30, 40, 50, 60, 70, 80, 90, 100])
    ax.set_yticks([-40, -30, -20, -10, 0, 10, 20, 30])
    for side in ['left', 'bottom']:
        ax.spines[side].set_linewidth(1.6)
    for side in ['top', 'right']:
        ax.spines[side].set_linewidth(1.3)


draw(ax1, women_core_x, women_core_y,
     [women_upper, women_halo_up, women_left, women_lower, women_right],
     (5, 105), (-40, 32.9), women_limits, women_fit, 2.5, 105)
draw(ax2, men_core_x, men_core_y, [men_upper, men_right, men_lower],
     (5, 100), (-44.8, 32.5), men_limits, men_fit, 5, 100.7)

# titles and axis labels
ftext(356, 26, women_title, ha='center', va='center', fontsize=20)
ftext(357, 673, men_title, ha='center', va='center', fontsize=20)
ftext(364, 615, x_label, ha='center', va='center', fontsize=17)
ftext(365, 1238, x_label, ha='center', va='center', fontsize=17)
ftext(26, 303, y_label, ha='center', va='center', rotation=90, fontsize=16.5)
ftext(26, 934, y_label, ha='center', va='center', rotation=90, fontsize=16.5)

# right-hand line labels
LS = 14
ftext(634, 208, "Upper confidence limit", ha='left', va='center', fontsize=LS)
ftext(634, 347, "Lower confidence limit", ha='left', va='center', fontsize=LS)
ftext(620, 804, "Upper confidence limit", ha='left', va='center', fontsize=LS)
ftext(620, 1000, "Lower confidence limit", ha='left', va='center', fontsize=LS)
t1 = ftext(637, 282, "Mean difference", ha='left', va='center', fontsize=LS)
t2 = ftext(623, 893, "Mean difference", ha='left', va='center', fontsize=LS)

fig.canvas.draw()
r = fig.canvas.get_renderer()
for t, lab, yp in [(t1, women_mean_label, 282), (t2, men_mean_label, 893)]:
    bb = t.get_window_extent(r)
    ftext(bb.x1 + 5, yp, lab, ha='left', va='center', fontsize=LS, fontweight='bold')

fig.savefig('out.png', dpi=100)
